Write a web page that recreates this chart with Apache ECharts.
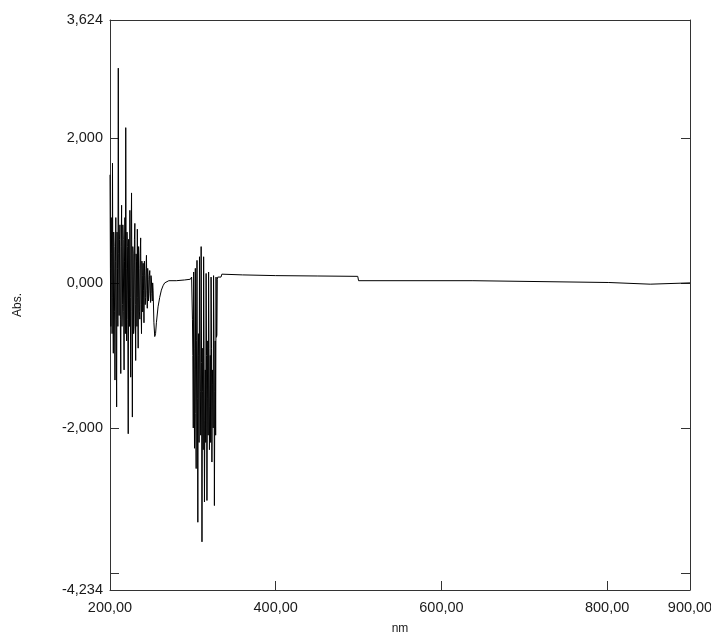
<!DOCTYPE html>
<html>
<head>
<meta charset="utf-8">
<script src="https://cdn.jsdelivr.net/npm/echarts@6/dist/echarts.min.js"></script>
<style>
html,body{margin:0;padding:0;background:#fff;}
#chart{width:711px;height:632px;}
</style>
</head>
<body>
<div id="chart"></div>
<script>
// Noisy region 1: values at whole nm (200..252) and at half nm (200.5..251.5)
const noise1Start = 200;
const noise1Whole = [
  1.49, -0.60, 0.40, 1.65, -0.97, 0.50, -1.34, 0.90, -1.71, 0.20,
  2.96, -0.45, 0.80, -1.25, 1.07, -0.30, 0.60, -1.20, 0.90, 2.14,
  -0.80, 0.50, -2.08, 0.30, 1.00, -1.30, 1.24, -1.85, 0.40, -0.60,
  0.82, -1.07, 0.30, 0.74, -0.90, 0.20, -0.50, 0.62, -0.70, 0.10,
  0.27, -0.55, 0.10, -0.20, 0.38, -0.35, 0.05, -0.15, 0.17, -0.27,
  0.04, -0.25, -0.10
];
const noise1Half = [
  0.20, 0.90, -0.70, -0.20, 0.70, -0.40, 0.30, -0.50, 0.70, -0.60,
  0.40, 0.60, -0.50, 0.50, -0.60, 0.80, -0.40, 0.30, -0.70, 0.20,
  0.70, -0.50, 0.60, -0.60, -0.20, 0.60, -0.40, 0.50, -0.70, 0.60,
  -0.30, 0.40, -0.60, -0.20, 0.50, -0.40, 0.40, -0.30, 0.30, -0.40,
  -0.10, 0.30, -0.30, 0.20, -0.10, 0.20, -0.25, 0.10, -0.10, 0.10,
  -0.15, 0.00
];
// Dip and smooth baseline between the noisy regions
const dipNm  = [253, 254, 255, 256, 258, 260, 262, 264, 266, 268, 271, 280, 290, 297];
const dipAbs = [-0.55, -0.74, -0.70, -0.55, -0.33, -0.20, -0.10, -0.04, 0.00, 0.02, 0.03, 0.03, 0.04, 0.05];
// Noisy region 2: whole nm (298..329) and half nm (298.5..329.5)
const noise2Start = 298;
const noise2Whole = [
  0.06, 0.10, -1.00, 0.15, -2.28, 0.20, -2.56, 0.31, -3.30, -0.70,
  0.36, -1.50, 0.50, -3.57, -0.90, 0.36, -3.02, -1.20, 0.13, -3.00,
  -0.80, 0.15, -2.30, -1.00, 0.08, -2.47, -1.40, 0.10, -3.07, -0.80,
  0.08, -0.72
];
const noise2Half = [
  0.08, -0.50, -2.00, -0.90, -1.20, -1.80, -0.80, -1.60, -1.00, -2.20,
  -0.90, -2.10, -1.10, -1.50, -2.30, -0.80, -1.90, -2.20, -1.00, -1.60,
  -2.10, -0.90, -1.70, -2.20, -0.90, -1.20, -2.00, -0.80, -1.50, -2.10,
  -0.75, 0.05
];
// Flat tail
const tailNm  = [330, 334, 335, 360, 400, 450, 499, 500, 638, 639, 802, 803, 852, 853, 900];
const tailAbs = [0.08, 0.08, 0.12, 0.11, 0.10, 0.095, 0.09, 0.03, 0.03, 0.005, 0.005, -0.018, -0.018, 0.0, 0.0];

// Axis ticks / labels
const xLabelValues = [200, 400, 600, 800, 900];
const xTickValues  = [400, 600, 800];
const yLabelValues = [-4.234, -2, 0, 2, 3.624];
const yTickValues  = [-4, -2, 0, 2];

function interleave(start, whole, half, out) {
  whole.forEach((v, i) => {
    out.push([start + i, v]);
    if (i < half.length) out.push([start + i + 0.5, half[i]]);
  });
}
const data = [];
interleave(noise1Start, noise1Whole, noise1Half, data);
dipNm.forEach((x, i) => data.push([x, dipAbs[i]]));
interleave(noise2Start, noise2Whole, noise2Half, data);
tailNm.forEach((x, i) => data.push([x, tailAbs[i]]));

const axisColor = '#333';
const font = 'Liberation Sans, Arial, sans-serif';
const labelStyle = {color: '#1a1a1a', fontFamily: font, fontSize: 14.5};
const nameStyle = {color: '#1a1a1a', fontFamily: font, fontSize: 12};

const chart = echarts.init(document.getElementById('chart'), null, {renderer: 'canvas'});
chart.setOption({
  animation: false,
  backgroundColor: '#fff',
  grid: {left: 110, right: 21, top: 20, bottom: 42, containLabel: false, outerBoundsMode: 'none'},
  xAxis: [{
    type: 'value', min: 200, max: 900, position: 'bottom',
    name: 'nm', nameLocation: 'middle', nameGap: 33,
    nameTextStyle: nameStyle,
    axisLine: {show: true, onZero: false, lineStyle: {color: axisColor, width: 1}},
    axisTick: {show: true, inside: true, length: 9, customValues: xTickValues, lineStyle: {color: axisColor}},
    axisLabel: {show: true, margin: 10, customValues: xLabelValues, ...labelStyle,
      formatter: v => v.toFixed(2).replace('.', ',')},
    splitLine: {show: false}
  }, {
    type: 'value', min: 200, max: 900, position: 'top',
    axisLine: {show: true, onZero: false, lineStyle: {color: axisColor, width: 1}},
    axisTick: {show: false}, axisLabel: {show: false}, splitLine: {show: false}
  }],
  yAxis: [{
    type: 'value', min: -4.234, max: 3.624, position: 'left',
    name: 'Abs.', nameLocation: 'middle', nameGap: 86, nameRotate: 90,
    nameTextStyle: nameStyle,
    axisLine: {show: true, onZero: false, lineStyle: {color: axisColor, width: 1}},
    axisTick: {show: true, inside: true, length: 9, customValues: yTickValues, lineStyle: {color: axisColor}},
    axisLabel: {show: true, margin: 7, customValues: yLabelValues, ...labelStyle,
      formatter: v => v.toFixed(3).replace('.', ',')},
    splitLine: {show: false}
  }, {
    type: 'value', min: -4.234, max: 3.624, position: 'right',
    axisLine: {show: true, onZero: false, lineStyle: {color: axisColor, width: 1}},
    axisTick: {show: true, inside: true, length: 9, customValues: yTickValues, lineStyle: {color: axisColor}},
    axisLabel: {show: false}, splitLine: {show: false}
  }],
  series: [{
    type: 'line',
    data: data,
    xAxisIndex: 0, yAxisIndex: 0,
    showSymbol: false, symbol: 'none',
    sampling: null,
    lineStyle: {color: '#000', width: 1},
    silent: true
  }]
});
</script>
</body>
</html>
